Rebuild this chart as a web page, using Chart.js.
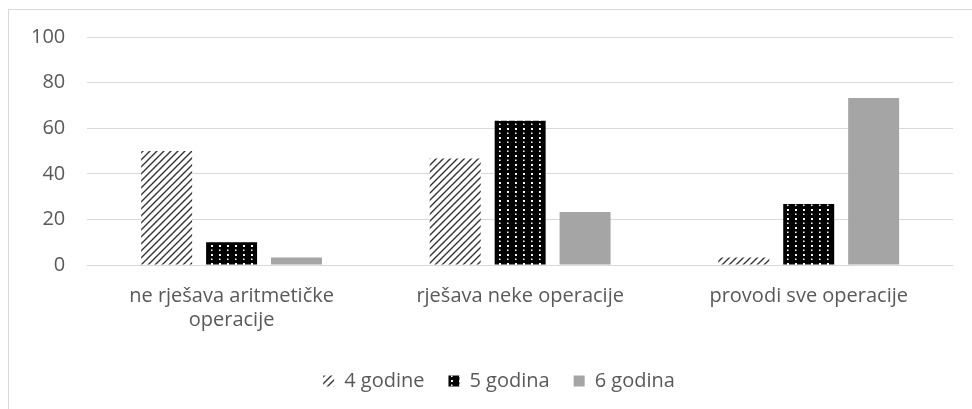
<!DOCTYPE html>
<html>
<head>
<meta charset="utf-8">
<script src="https://cdn.jsdelivr.net/npm/chart.js@4.4.1/dist/chart.umd.min.js"></script>
<style>
  html, body { margin: 0; padding: 0; background: #fff; overflow: hidden; }
  #wrap { position: relative; width: 972px; height: 409px; }
  #frame { position: absolute; left: 8px; top: 9px; width: 980px; height: 420px; border: 1px solid #d9d9d9; }
  #myChart { position: absolute; left: 0; top: 0; }
</style>
</head>
<body>
<div id="wrap">
  <div id="frame"></div>
  <canvas id="myChart" width="972" height="409"></canvas>
</div>
<script>
const categories = [['ne rješava aritmetičke', 'operacije'], 'rješava neke operacije', 'provodi sve operacije'];
const seriesNames = ['4 godine', '5 godina', '6 godina'];
const age4 = [50, 46.7, 3.3];
const age5 = [10, 63.3, 26.7];
const age6 = [3.3, 23.3, 73.3];
const yTicks = [0, 20, 40, 60, 80, 100];

// pattern fills, like excel's hatch styles
function hatchPattern() {
    const s = 7;
    const c = document.createElement('canvas');
    c.width = s; c.height = s;
    const g = c.getContext('2d');
    g.fillStyle = '#fff';
    g.fillRect(0, 0, s, s);
    g.strokeStyle = '#333';
    g.lineWidth = 1.4;
    g.beginPath();
    g.moveTo(-1, s + 1); g.lineTo(s + 1, -1);
    g.moveTo(-1, 1); g.lineTo(1, -1);
    g.moveTo(s - 1, s + 1); g.lineTo(s + 1, s - 1);
    g.stroke();
    return g.createPattern(c, 'repeat');
}

function dotPattern() {
    const c = document.createElement('canvas');
    c.width = 8; c.height = 9;
    const g = c.getContext('2d');
    g.fillStyle = '#000';
    g.fillRect(0, 0, 8, 9);
    g.fillStyle = '#fff';
    g.fillRect(3, 2, 2, 2);
    g.fillRect(3, 6.5, 1.5, 1.5);
    return g.createPattern(c, 'repeat');
}

// excel centres the legend a bit further right and lower
const legendShift = {
    id: 'legendShift',
    afterLayout(chart) {
        chart.legend.left += 18;
        chart.legend.right += 18;
        chart.legend.top += 4;
        chart.legend.bottom += 4;
    }
};

const ctx = document.getElementById('myChart');
const textColor = '#595959';
const fontFamily = '"Open Sans", sans-serif';

new Chart(ctx, {
    type: 'bar',
    data: {
        labels: categories,
        datasets: [
            { label: seriesNames[0], data: age4, backgroundColor: hatchPattern(), borderWidth: 0 },
            { label: seriesNames[1], data: age5, backgroundColor: dotPattern(), borderWidth: 0 },
            { label: seriesNames[2], data: age6, backgroundColor: '#a5a5a5', borderWidth: 0 }
        ]
    },
    options: {
        responsive: false,
        animation: false,
        categoryPercentage: 0.675,
        barPercentage: 0.785,
        layout: { padding: { left: 9, right: 19, top: 37, bottom: 12 } },
        scales: {
            x: {
                grid: { display: false },
                border: { display: false },
                ticks: { color: textColor, font: { family: fontFamily, size: 20 }, padding: 11, maxRotation: 0 }
            },
            y: {
                min: 0,
                max: 100,
                afterBuildTicks: (axis) => { axis.ticks = yTicks.map(v => ({ value: v })); },
                grid: { color: '#d9d9d9', lineWidth: 1, drawTicks: false },
                border: { display: false },
                ticks: { color: textColor, font: { family: fontFamily, size: 20 }, padding: 22 }
            }
        },
        plugins: {
            legend: {
                position: 'bottom',
                labels: {
                    color: textColor,
                    font: { family: fontFamily, size: 20 },
                    boxWidth: 11,
                    boxHeight: 11,
                    padding: 24
                }
            },
            tooltip: { enabled: false }
        }
    },
    plugins: [legendShift]
});
</script>
</body>
</html>
